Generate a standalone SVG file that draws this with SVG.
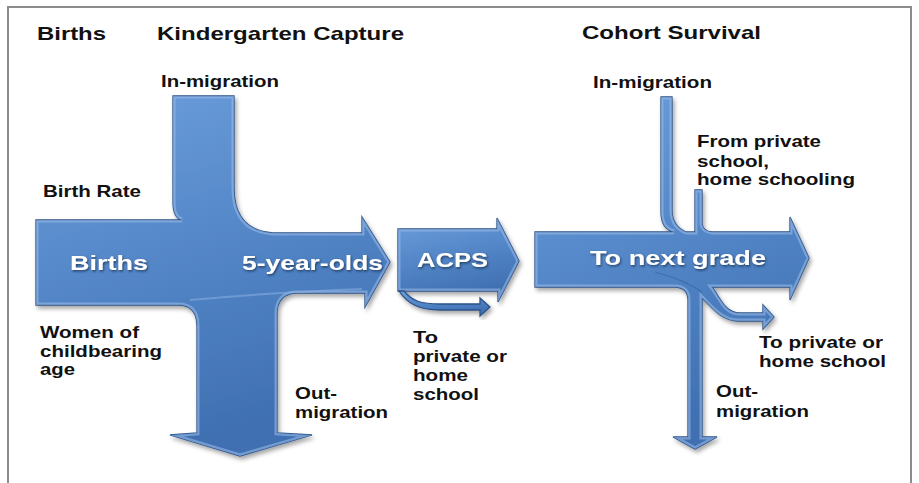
<svg xmlns="http://www.w3.org/2000/svg" xmlns:xlink="http://www.w3.org/1999/xlink" width="919" height="483" viewBox="0 0 919 483">
<style>
.arrow{fill:url(#blue);stroke:#2c5287;stroke-width:1.3;filter:url(#shadow)}
.bevel{fill:none;stroke:#9cc0ec;stroke-opacity:0.55;stroke-width:5}
.streak{fill:none;stroke:#8fb4e4;stroke-opacity:0.5;stroke-width:2}
.lbl{font-family:"Liberation Sans",Arial,sans-serif;font-weight:bold;font-size:16.5px;fill:#111}
.ttl{font-family:"Liberation Sans",Arial,sans-serif;font-weight:bold;font-size:19px;fill:#111}
.wt{font-family:"Liberation Sans",Arial,sans-serif;font-weight:bold;font-size:21px;fill:#fff;filter:url(#tshadow)}
</style>
<defs>
<linearGradient id="blue" x1="0" y1="0" x2="0.3" y2="1">
<stop offset="0" stop-color="#6c9edc"/>
<stop offset="0.55" stop-color="#5285c6"/>
<stop offset="1" stop-color="#4070b1"/>
</linearGradient>
<filter id="shadow" x="-10%" y="-10%" width="125%" height="125%">
<feDropShadow dx="2" dy="3" stdDeviation="2" flood-color="#000" flood-opacity="0.35"/>
</filter>
<filter id="tshadow" x="-10%" y="-20%" width="130%" height="160%">
<feDropShadow dx="1" dy="1.5" stdDeviation="1" flood-color="#1a2f50" flood-opacity="0.8"/>
</filter>
<path id="p-kinder" d="M36,220 L182,220 Q173,218 173,202 L173,96 L234,96 L234,188 Q234,233 278,233 L362,233 L362,217 L390,262 L365,307 L365,293 L296,293 Q277,294 277,314 L277,433 L312,435 L240,456 L170,435 L197,433 L197,326 Q197,305 178,305 L36,305 Z"/>
<path id="p-acps" d="M398,229 L497,229 L497,218 L519,261 L498,302 L498,291 L398,291 Z"/>
<path id="p-acpsb" d="M404,291 C412,301 421,304 440,304 L480,304 L480,298 L490,307 L480,316 L480,310 L440,310 C418,310 407,303 399,291 Z"/>
<path id="p-cohort" d="M535,232 L674,232 Q661,229 661,212 L661,97 L672,97 L672,210 Q672,226 686,232 L695,232 L695,190 L702,190 L702,224 Q703,231 712,232 L790,232 L790,217 L809,258 L790,300 L790,287 L712,287 C721,299 725,313 740,313 L763,313 L763,305 L774,317 L763,329 L763,321 L738,321 C722,321 712,308 702,298 L702,437 L717,437 L695,449 L673,437 L688,437 L688,300 Q688,288 676,287 L535,287 Z"/>
<clipPath id="c-kinder"><use xlink:href="#p-kinder"/></clipPath>
<clipPath id="c-acps"><use xlink:href="#p-acps"/></clipPath>
<clipPath id="c-cohort"><use xlink:href="#p-cohort"/></clipPath>
</defs>
<rect x="0" y="0" width="919" height="483" fill="#fff"/>
<path d="M8,483 V7 H911 V483" fill="none" stroke="#8c8c8c" stroke-width="2"/>

<g id="titles">
<text class="ttl" x="37" y="40" textLength="69" lengthAdjust="spacingAndGlyphs">Births</text>
<text class="ttl" x="157" y="40" textLength="247" lengthAdjust="spacingAndGlyphs">Kindergarten Capture</text>
<text class="ttl" x="582" y="39" textLength="179" lengthAdjust="spacingAndGlyphs">Cohort Survival</text>
</g>

<g id="connectors">
<g id="kindergarten-flow">
<use xlink:href="#p-kinder" class="arrow"/>
<use xlink:href="#p-kinder" class="bevel" clip-path="url(#c-kinder)"/>
<path class="streak" d="M190,300 Q280,292 362,289" clip-path="url(#c-kinder)"/>
</g>
<g id="acps-flow">
<use xlink:href="#p-acps" class="arrow"/>
<use xlink:href="#p-acps" class="bevel" clip-path="url(#c-acps)"/>
<use xlink:href="#p-acpsb" class="arrow"/>
</g>
<g id="cohort-flow">
<use xlink:href="#p-cohort" class="arrow"/>
<use xlink:href="#p-cohort" class="bevel" clip-path="url(#c-cohort)"/>
<path d="M655,272 Q685,280 702,292" fill="none" stroke="#335f9a" stroke-opacity="0.6" stroke-width="1.2"/>
</g>
</g>

<g id="node-births">
<text class="wt" x="70" y="270" textLength="78" lengthAdjust="spacingAndGlyphs">Births</text>
<text class="lbl" x="43" y="197" textLength="98" lengthAdjust="spacingAndGlyphs">Birth Rate</text>
<text class="lbl" x="40" y="338" textLength="99" lengthAdjust="spacingAndGlyphs">Women of</text>
<text class="lbl" x="40" y="357" textLength="122" lengthAdjust="spacingAndGlyphs">childbearing</text>
<text class="lbl" x="40" y="375" textLength="35" lengthAdjust="spacingAndGlyphs">age</text>
</g>

<g id="node-kindergarten">
<text class="lbl" x="161" y="87" textLength="118" lengthAdjust="spacingAndGlyphs">In-migration</text>
<text class="wt" x="242" y="270" textLength="141" lengthAdjust="spacingAndGlyphs">5-year-olds</text>
<text class="lbl" x="295" y="399" textLength="42" lengthAdjust="spacingAndGlyphs">Out-</text>
<text class="lbl" x="295" y="418" textLength="93" lengthAdjust="spacingAndGlyphs">migration</text>
</g>

<g id="node-acps">
<text class="wt" x="417" y="267" textLength="71" lengthAdjust="spacingAndGlyphs">ACPS</text>
<text class="lbl" x="413" y="343" textLength="25" lengthAdjust="spacingAndGlyphs">To</text>
<text class="lbl" x="413" y="362" textLength="94" lengthAdjust="spacingAndGlyphs">private or</text>
<text class="lbl" x="413" y="381" textLength="55" lengthAdjust="spacingAndGlyphs">home</text>
<text class="lbl" x="413" y="400" textLength="66" lengthAdjust="spacingAndGlyphs">school</text>
</g>

<g id="node-cohort">
<text class="lbl" x="593" y="88" textLength="119" lengthAdjust="spacingAndGlyphs">In-migration</text>
<text class="lbl" x="697" y="147" textLength="124" lengthAdjust="spacingAndGlyphs">From private</text>
<text class="lbl" x="697" y="167" textLength="72" lengthAdjust="spacingAndGlyphs">school,</text>
<text class="lbl" x="697" y="185" textLength="158" lengthAdjust="spacingAndGlyphs">home schooling</text>
<text class="wt" x="590" y="265" textLength="176" lengthAdjust="spacingAndGlyphs">To next grade</text>
<text class="lbl" x="759" y="348" textLength="124" lengthAdjust="spacingAndGlyphs">To private or</text>
<text class="lbl" x="759" y="367" textLength="127" lengthAdjust="spacingAndGlyphs">home school</text>
<text class="lbl" x="716" y="397" textLength="42" lengthAdjust="spacingAndGlyphs">Out-</text>
<text class="lbl" x="716" y="417" textLength="93" lengthAdjust="spacingAndGlyphs">migration</text>
</g>
</svg>
